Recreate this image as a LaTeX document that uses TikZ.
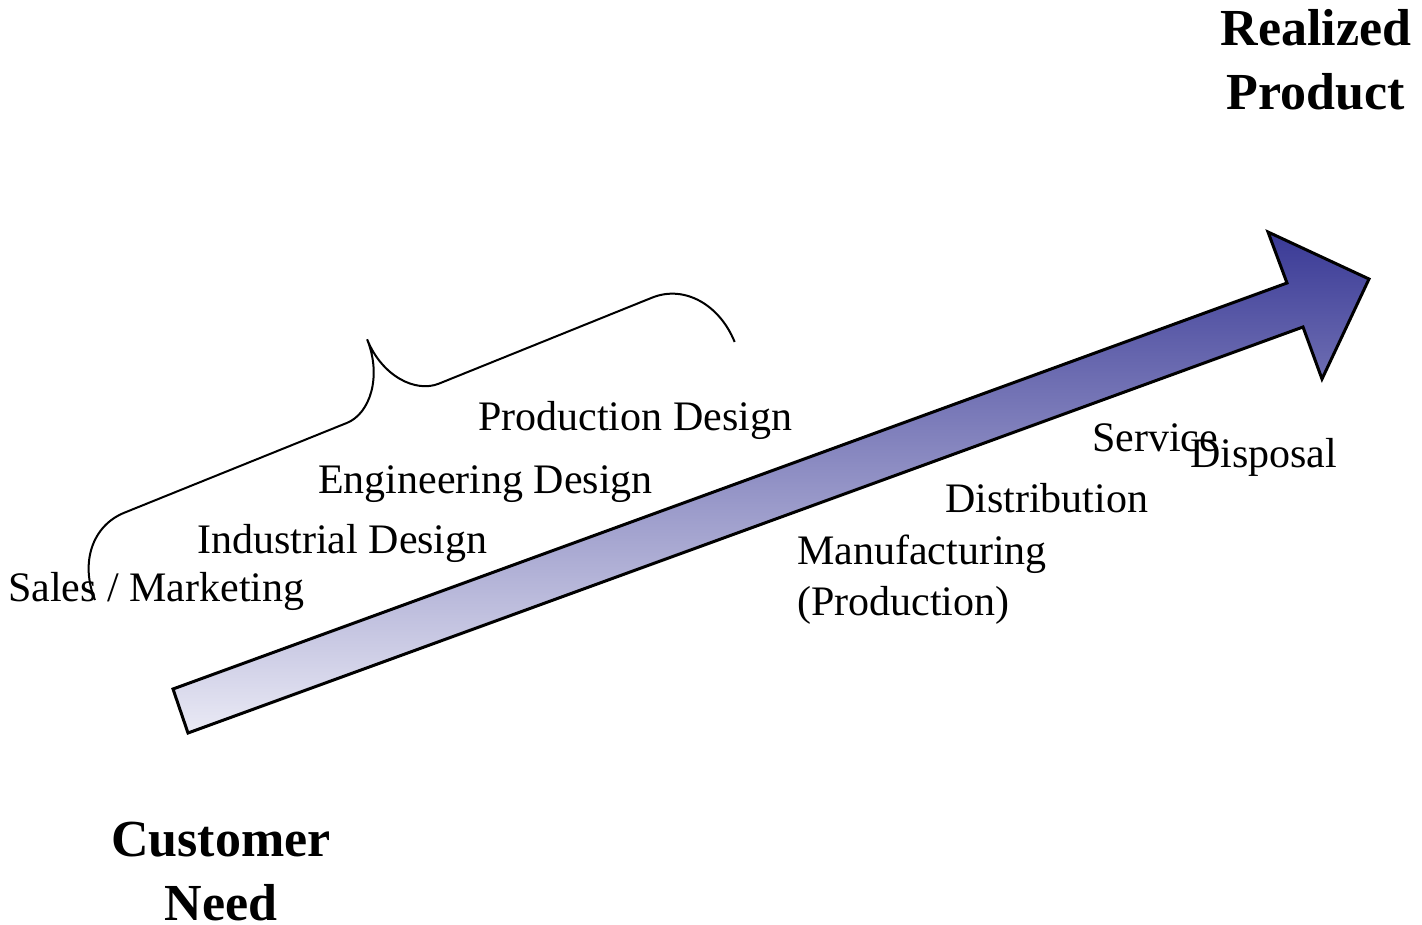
\documentclass[tikz,border=0pt]{standalone}
\usepackage{fontspec}
\setmainfont{Liberation Serif}
\definecolor{flowtop}{RGB}{58,58,150}
\definecolor{flowmid}{RGB}{160,160,206}
\definecolor{flowbottom}{RGB}{234,234,245}

\begin{document}
\begin{tikzpicture}
	[x=1pt,y=-1pt,line join=miter,
		stage/.style={anchor=base west,inner sep=0pt,font=\fontsize{42}{51}\selectfont},
		goal/.style={anchor=base,inner sep=0pt,font=\fontsize{52}{64}\selectfont\bfseries},
		flow/.style={draw=black,line width=3pt,top color=flowtop,middle color=flowmid,bottom color=flowbottom},
		phase brace/.style={draw=black,line width=2pt}]

	\useasboundingbox (0,0) rectangle (1422,925);

	% the big arrow
	\coordinate (tailtop) at (173,689);
	\coordinate (shafttop) at (1287,283);
	\coordinate (headtop) at (1268,232);
	\coordinate (tip) at (1369,279);
	\coordinate (headbot) at (1322,379);
	\coordinate (shaftbot) at (1303,327);
	\coordinate (tailbot) at (188,733);
	\path[flow] (tailtop) -- (shafttop) -- (headtop) -- (tip) -- (headbot) -- (shaftbot) -- (tailbot) -- cycle;

	% brace over the design phases, drawn along its own tilted axis
	\begin{scope}[shift={(95,600)},x={(0.927pt,0.374pt)},y={(-0.374pt,0.927pt)}]
		\coordinate (bracestart) at (0,0);
		\coordinate (bracetip) at (350,140);
		\coordinate (braceend) at (690,0);
		\path[phase brace] (bracestart) .. controls (0,40) and (25,70) .. (60,70) -- (300,70)
			.. controls (325,70) and (350,100) .. (bracetip)
			.. controls (350,100) and (375,72) .. (400,72) -- (630,72)
			.. controls (665,72) and (690,40) .. (braceend);
	\end{scope}

	\node[stage] (sales) at (8,601) {Sales / Marketing};
	\node[stage] (industrial) at (197,553) {Industrial Design};
	\node[stage] (engineering) at (318,493) {Engineering Design};
	\node[stage] (proddesign) at (478,430) {Production Design};

	\node[stage] (manuf) at (797,564) {Manufacturing};
	\node[stage] (prodline) at ([yshift=-51pt]manuf.base west) {(Production)};
	\node[stage] (distribution) at (945,512) {Distribution};
	\node[stage] (service) at (1092,451) {Service};
	\node[stage] (disposal) at (1190,467) {Disposal};

	\node[goal] (realized) at (1316,46) {Realized};
	\node[goal] (product) at ([yshift=-64pt]realized.base) {Product};
	\node[goal] (customer) at (221,856) {Customer};
	\node[goal] (need) at ([yshift=-64pt]customer.base) {Need};

\end{tikzpicture}
\end{document}
